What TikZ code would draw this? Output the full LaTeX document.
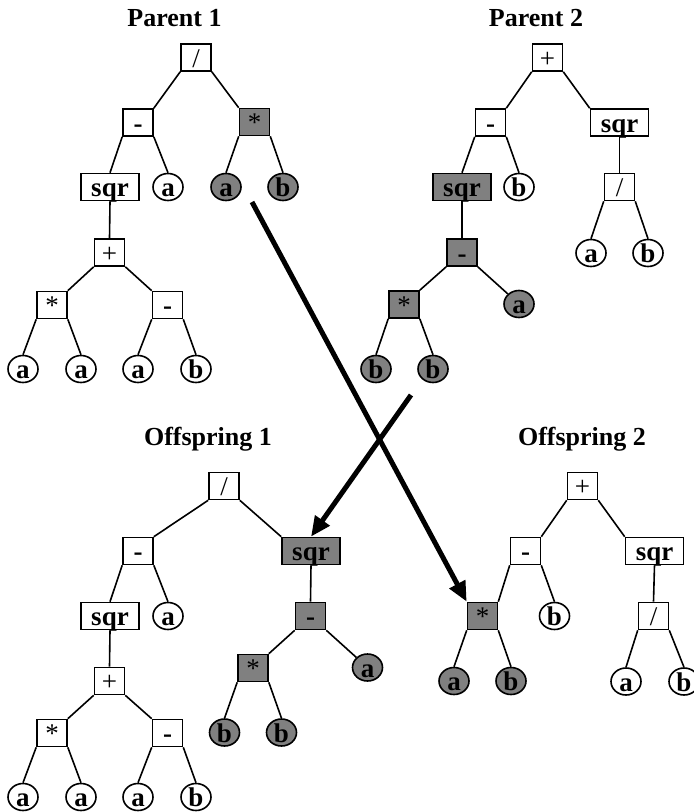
\documentclass[tikz,border=0pt]{standalone}
\usepackage{fontspec}
\setmainfont{Liberation Serif}
\usetikzlibrary{shapes.geometric,arrows.meta}
\definecolor{swapgray}{RGB}{128,128,128}
\newcommand\nodefont{\fontsize{27}{29}\selectfont\bfseries}
\newcommand\titlefont{\fontsize{26}{30}\selectfont\bfseries}

\begin{document}
\begin{tikzpicture}[x=1pt,y=-1pt,
  opbox/.style={draw, line width=1.6pt, fill=white, minimum width=30pt,
    minimum height=27pt, inner sep=0pt, text height=19pt, text depth=0pt,
    font=\nodefont},
  widebox/.style={opbox, minimum width=58pt},
  leaf/.style={ellipse, draw, line width=1.6pt, fill=white, minimum width=30pt,
    minimum height=27pt, inner sep=0pt, text height=19pt, text depth=0pt,
    font=\nodefont},
  hot/.style={fill=swapgray},
  link/.style={line width=1.6pt},
  move/.style={line width=5pt, -{Triangle[length=20pt,width=17pt]}},
  title/.style={font=\titlefont, anchor=base}]
\useasboundingbox (0,0) rectangle (694,812);

% ---------- Parent 1 ----------
\node[title] (t1) at (174.5,26.7) {Parent 1};
\node[opbox] (p1r) at (196,57.5) {\mdseries /};
\node[opbox] (p1m) at (138,122.5) {-};
\node[opbox,hot] (p1s) at (254.5,122) {\mdseries *};
\node[widebox] (p1q) at (110,187) {sqr};
\node[leaf] (p1a) at (168,187) {a};
\node[leaf,hot] (p1sa) at (226,187) {a};
\node[leaf,hot] (p1sb) at (283,187) {b};
\node[opbox] (p1p) at (109.5,252.5) {\mdseries +};
\node[opbox] (p1t) at (52,305) {\mdseries *};
\node[opbox] (p1u) at (167.5,305) {-};
\node[leaf] (p1l1) at (23,369) {a};
\node[leaf] (p1l2) at (81,369) {a};
\node[leaf] (p1l3) at (138,369) {a};
\node[leaf] (p1l4) at (196,369) {b};

\draw[link] (p1r.south west) -- (p1m.north east);
\draw[link] (p1r.south east) -- (p1s.north west);
\draw[link] (p1m.south west) -- (p1q.north);
\draw[link] (p1m.south east) -- (p1a.north);
\draw[link] (p1s.south west) -- (p1sa.north);
\draw[link] (p1s.south east) -- (p1sb.north);
\draw[link] (p1q.south) -- (p1p.north);
\draw[link] (p1p.south west) -- (p1t.north east);
\draw[link] (p1p.south east) -- (p1u.north west);
\draw[link] (p1t.south west) -- (p1l1.north);
\draw[link] (p1t.south east) -- (p1l2.north);
\draw[link] (p1u.south west) -- (p1l3.north);
\draw[link] (p1u.south east) -- (p1l4.north);

% ---------- Parent 2 ----------
\node[title] (t2) at (536,26.7) {Parent 2};
\node[opbox] (p2r) at (547.5,57.5) {\mdseries +};
\node[opbox] (p2m) at (490.5,122.5) {-};
\node[widebox] (p2q) at (619.5,122.5) {sqr};
\node[widebox,hot] (p2g) at (462,187) {sqr};
\node[leaf] (p2b) at (519,187) {b};
\node[opbox] (p2d) at (619.5,187) {\mdseries /};
\node[opbox,hot] (p2n) at (462,252.5) {-};
\node[opbox,hot] (p2t) at (404,304.5) {\mdseries *};
\node[leaf,hot] (p2na) at (519,304) {a};
\node[leaf,hot] (p2b1) at (376,369) {b};
\node[leaf,hot] (p2b2) at (433,369) {b};
\node[leaf] (p2da) at (591,253) {a};
\node[leaf] (p2db) at (648,253) {b};

\draw[link] (p2r.south west) -- (p2m.north east);
\draw[link] (p2r.south east) -- (p2q.north west);
\draw[link] (p2m.south west) -- (p2g.north);
\draw[link] (p2m.south east) -- (p2b.north);
\draw[link] (p2q.south) -- (p2d.north);
\draw[link] (p2d.south west) -- (p2da.north);
\draw[link] (p2d.south east) -- (p2db.north);
\draw[link] (p2g.south) -- (p2n.north);
\draw[link] (p2n.south west) -- (p2t.north east);
\draw[link] (p2n.south east) -- (p2na);
\draw[link] (p2t.south west) -- (p2b1.north);
\draw[link] (p2t.south east) -- (p2b2.north);

% ---------- Offspring 1 ----------
\node[title] (t3) at (208,445) {Offspring 1};
\node[opbox] (o1r) at (224,486) {\mdseries /};
\node[opbox] (o1m) at (138,551) {-};
\node[widebox,hot] (o1g) at (311,551) {sqr};
\node[widebox] (o1q) at (110,616) {sqr};
\node[leaf] (o1a) at (168,616) {a};
\node[opbox] (o1p) at (109.5,681) {\mdseries +};
\node[opbox] (o1t) at (52,733) {\mdseries *};
\node[opbox] (o1u) at (167.5,733) {-};
\node[leaf] (o1l1) at (23,797) {a};
\node[leaf] (o1l2) at (81,797) {a};
\node[leaf] (o1l3) at (138,797) {a};
\node[leaf] (o1l4) at (196,797) {b};
\node[opbox,hot] (o1n) at (310.5,616) {-};
\node[opbox,hot] (o1s) at (253,668) {\mdseries *};
\node[leaf,hot] (o1na) at (367.5,667.5) {a};
\node[leaf,hot] (o1b1) at (224.5,732.5) {b};
\node[leaf,hot] (o1b2) at (281.5,732.5) {b};

\draw[link] (o1r.south west) -- (o1m.north east);
\draw[link] (o1r.south east) -- (o1g.north west);
\draw[link] (o1m.south west) -- (o1q.north);
\draw[link] (o1m.south east) -- (o1a.north);
\draw[link] (o1q.south) -- (o1p.north);
\draw[link] (o1p.south west) -- (o1t.north east);
\draw[link] (o1p.south east) -- (o1u.north west);
\draw[link] (o1t.south west) -- (o1l1.north);
\draw[link] (o1t.south east) -- (o1l2.north);
\draw[link] (o1u.south west) -- (o1l3.north);
\draw[link] (o1u.south east) -- (o1l4.north);
\draw[link] (o1g.south) -- (o1n.north);
\draw[link] (o1n.south west) -- (o1s.north east);
\draw[link] (o1n.south east) -- (o1na);
\draw[link] (o1s.south west) -- (o1b1.north);
\draw[link] (o1s.south east) -- (o1b2.north);

% ---------- Offspring 2 ----------
\node[title] (t4) at (582,445) {Offspring 2};
\node[opbox] (o2r) at (582.5,486) {\mdseries +};
\node[opbox] (o2m) at (525.5,551) {-};
\node[widebox] (o2q) at (654.5,551) {sqr};
\node[opbox,hot] (o2s) at (482.5,616) {\mdseries *};
\node[leaf] (o2b) at (554.5,616) {b};
\node[opbox] (o2d) at (653.5,616) {\mdseries /};
\node[leaf,hot] (o2sa) at (454,681) {a};
\node[leaf,hot] (o2sb) at (511,681) {b};
\node[leaf] (o2da) at (626,681.5) {a};
\node[leaf] (o2db) at (684,681.5) {b};

\draw[link] (o2r.south west) -- (o2m.north east);
\draw[link] (o2r.south east) -- (o2q.north west);
\draw[link] (o2m.south west) -- (o2s.north east);
\draw[link] (o2m.south east) -- (o2b.north);
\draw[link] (o2q.south) -- (o2d.north);
\draw[link] (o2d.south west) -- (o2da.north);
\draw[link] (o2d.south east) -- (o2db.north);
\draw[link] (o2s.south west) -- (o2sa.north);
\draw[link] (o2s.south east) -- (o2sb.north);

% ---------- crossover arrows ----------
\coordinate (from1) at (252,202);
\coordinate (from2) at (411,395);
\draw[move] (from1) -- (o2s.north west);
\draw[move] (from2) -- (o1g.north);
\end{tikzpicture}
\end{document}
